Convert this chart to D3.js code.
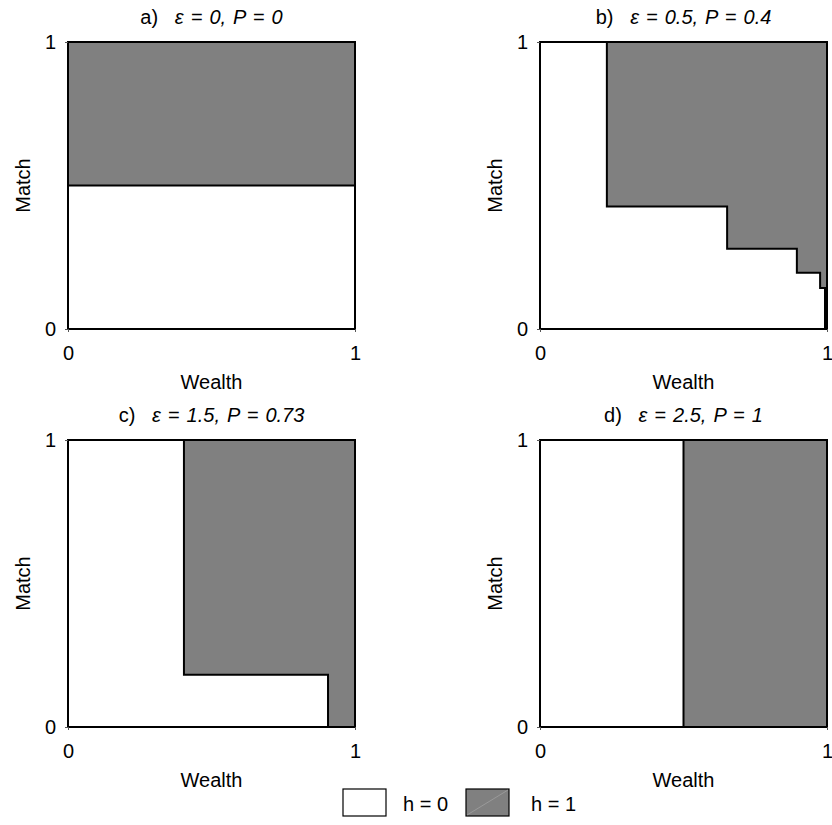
<!DOCTYPE html>
<html><head><meta charset="utf-8">
<script src="https://cdn.jsdelivr.net/npm/d3@7"></script>
<style>body{margin:0;background:#fff}svg{display:block}text{font-family:"Liberation Sans",Arial,sans-serif;fill:#000}</style>
</head><body><svg id="c" width="832" height="825"></svg>
<script>
const labels = ["a)", "b)", "c)", "d)"];
const eps = ["0", "0.5", "1.5", "2.5"];
const pVals = ["0", "0.4", "0.73", "1"];
// step boundary of h = 1 region: wealth breakpoints and the match threshold on each step
const wealthA = [0, 1], matchA = [0.5];
const wealthB = [0.233, 0.652, 0.895, 0.976, 0.993, 1], matchB = [0.427, 0.28, 0.196, 0.143, 0];
const wealthC = [0.404, 0.906, 1], matchC = [0.182, 0];
const wealthD = [0.5, 1], matchD = [0];
const tickVals = [0, 1];
const tickLabels = ["0", "1"];
const legendLabels = ["h = 0", "h = 1"];

const steps = [[wealthA, matchA], [wealthB, matchB], [wealthC, matchC], [wealthD, matchD]];
const svg = d3.select("#c");
const cols = [[68, 355], [540, 827]];
const rows = [[329, 42], [727, 440]];
const gray = "#808080";
const FS = 20;

steps.forEach(([w, m], i) => {
  const x = d3.scaleLinear().domain([0, 1]).range(cols[i % 2]);
  const y = d3.scaleLinear().domain([0, 1]).range(rows[Math.floor(i / 2)]);
  const g = svg.append("g");
  g.append("rect").attr("x", x(0)).attr("y", y(1)).attr("width", x(1) - x(0)).attr("height", y(0) - y(1)).attr("fill", "#fff");
  const pts = [[w[0], 1]];
  m.forEach((mv, k) => { pts.push([w[k], mv]); pts.push([w[k + 1], mv]); });
  pts.push([1, 1]);
  g.append("path").attr("d", d3.line().x(d => x(d[0])).y(d => y(d[1]))(pts) + "Z")
    .attr("fill", gray).attr("stroke", "#000").attr("stroke-width", 2).attr("stroke-linejoin", "miter");
  g.append("rect").attr("x", x(0)).attr("y", y(1)).attr("width", x(1) - x(0)).attr("height", y(0) - y(1))
    .attr("fill", "none").attr("stroke", "#000").attr("stroke-width", 2);
  const xa = g.append("g").attr("transform", `translate(0,${y(0)})`)
    .call(d3.axisBottom(x).tickValues(tickVals).tickFormat((d, k) => tickLabels[k]).tickSize(3).tickPadding(14));
  const ya = g.append("g").attr("transform", `translate(${x(0)},0)`)
    .call(d3.axisLeft(y).tickValues(tickVals).tickFormat((d, k) => tickLabels[k]).tickSize(3).tickPadding(9));
  [xa, ya].forEach(a => {
    a.select(".domain").remove();
    a.selectAll("line").attr("stroke", "#555");
    a.selectAll("text").attr("font-size", FS).attr("font-family", '"Liberation Sans",Arial,sans-serif');
  });
  const cx = (x(0) + x(1)) / 2, cy = (y(0) + y(1)) / 2;
  g.append("text").attr("x", cx).attr("y", y(0) + 60).attr("text-anchor", "middle").attr("font-size", FS).text("Wealth");
  g.append("text").attr("transform", `translate(${x(0) - 38},${cy}) rotate(-90)`).attr("text-anchor", "middle").attr("font-size", FS).text("Match");
  const t = g.append("text").attr("x", cx).attr("y", y(1) - 18).attr("text-anchor", "middle").attr("font-size", FS);
  t.append("tspan").text(labels[i] + "\u00a0\u00a0 ");
  t.append("tspan").attr("font-style", "italic").attr("word-spacing", 1.5).text(`\u03b5 = ${eps[i]}, P = ${pVals[i]}`);
});

// legend
const lg = svg.append("g");
const boxX = [343, 466], textX = [403, 531];
legendLabels.forEach((lab, k) => {
  lg.append("rect").attr("x", boxX[k]).attr("y", 789).attr("width", 43).attr("height", 27)
    .attr("fill", k ? gray : "#fff").attr("stroke", "#000").attr("stroke-width", 1.2);
  if (k) lg.append("line").attr("x1", boxX[k] + 1).attr("y1", 815).attr("x2", boxX[k] + 42).attr("y2", 790).attr("stroke", "#a0a0a0").attr("stroke-width", 0.8);
  lg.append("text").attr("x", textX[k]).attr("y", 811).attr("font-size", FS).text(lab);
});
</script></body></html>
